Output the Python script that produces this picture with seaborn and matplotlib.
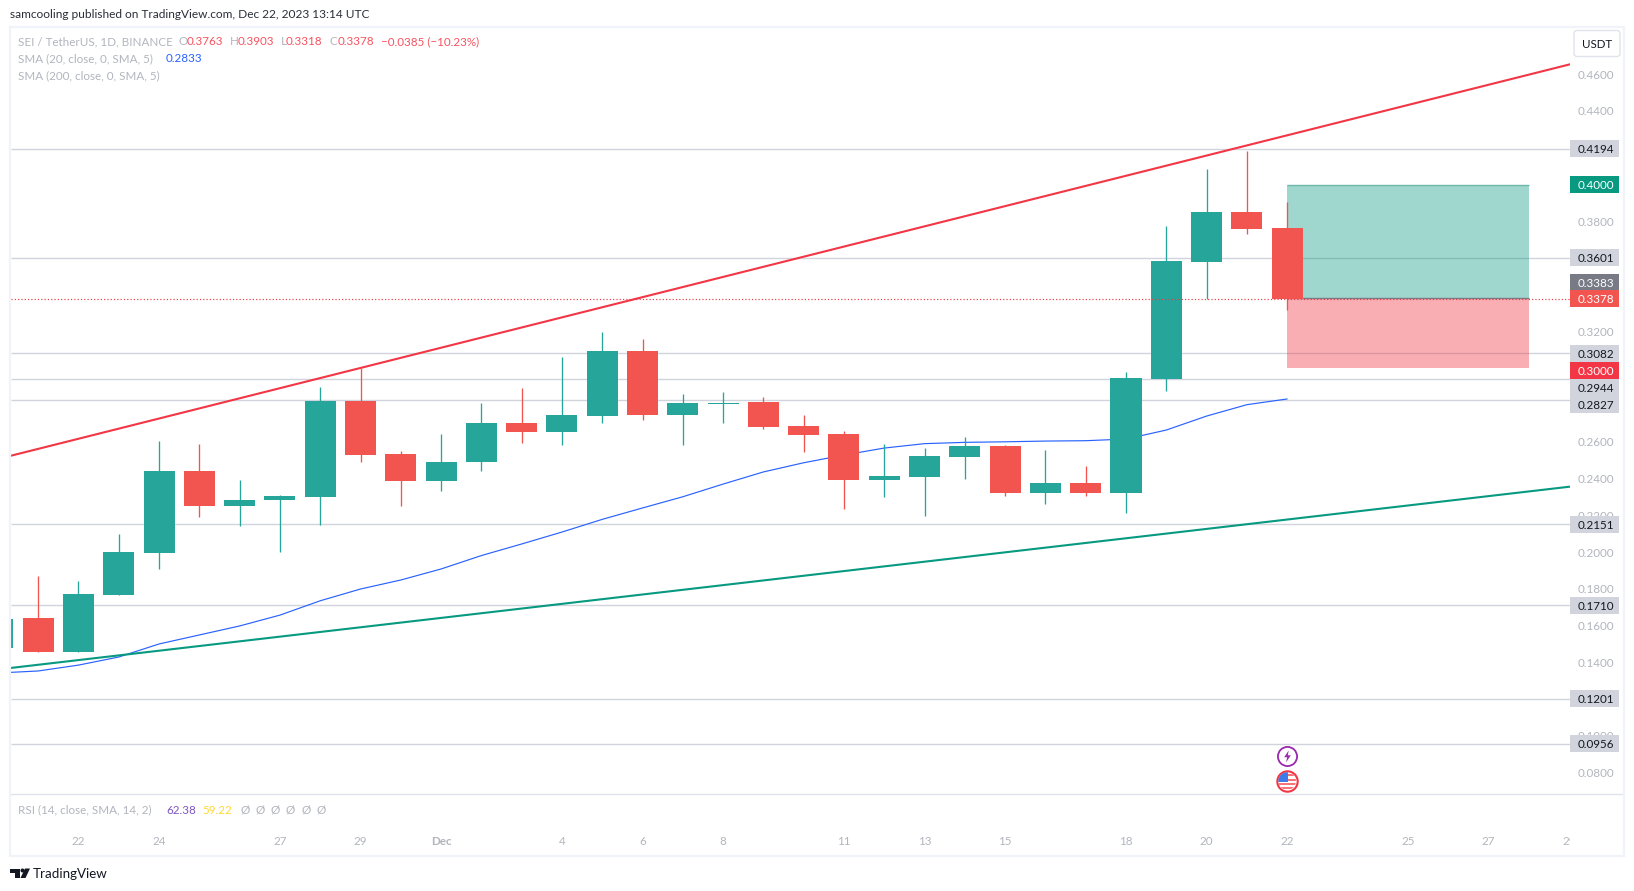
import matplotlib
matplotlib.use("Agg")
import matplotlib.pyplot as plt
from matplotlib.patches import Rectangle, FancyBboxPatch, Polygon, Circle
from matplotlib.path import Path
from matplotlib.transforms import Bbox
import numpy as np
import pandas as pd
import seaborn as sns

# Daily candles: day offset from 22 Nov 2023
days   = list(range(-2, 31))
opens  = [.1479, .1641, .1456, .1766, .1995, .2441, .2251, .2283, .2300, .2822, .2534,
          .2387, .2490, .2702, .2653, .2741, .3094, .2746, .2806, .2817, .2686, .2642,
          .2392, .2408, .2517, .2577, .2321, .2376, .2321, .2942, .3579, .3851, .3763]
highs  = [.1636, .1870, .1842, .2098, .2604, .2588, .2392, .2310, .2898, .3002, .2550,
          .2642, .2811, .2893, .3062, .3198, .3159, .2860, .2871, .2844, .2746, .2659,
          .2588, .2566, .2626, .2583, .2555, .2468, .2980, .3774, .4085, .4183, .3903]
lows   = [.1479, .1456, .1456, .1766, .1908, .2191, .2142, .2000, .2147, .2490, .2251,
          .2332, .2441, .2593, .2583, .2702, .2719, .2583, .2702, .2670, .2545, .2235,
          .2300, .2196, .2398, .2305, .2261, .2305, .2212, .2876, .3377, .3731, .3318]
closes = [.1636, .1456, .1772, .2000, .2441, .2251, .2283, .2305, .2822, .2528, .2387,
          .2490, .2702, .2653, .2746, .3094, .2746, .2811, .2810, .2681, .2637, .2392,
          .2414, .2523, .2577, .2321, .2376, .2321, .2947, .3584, .3851, .3758, .3378]

# 20-day simple moving average
sma20 = [.1342, .1353, .1385, .1429, .1500, .1549, .1598, .1657, .1735, .1799, .1848,
         .1908, .1981, .2044, .2109, .2178, .2240, .2301, .2370, .2436, .2486, .2528,
         .2566, .2590, .2597, .2600, .2604, .2606, .2615, .2664, .2740, .2802, .2833]

# Drawn trend lines
trend_days  = [-1.7, 37.02]
upper_trend = [.2523, .4654]
lower_trend = [.1369, .2356]

# Horizontal levels and the long-position tool
levels = [.4194, .3601, .3082, .2944, .2827, .2151, .1710, .1201, .0956]
level_nudge = [0, 0, 0, 9, 4, 0, 0, 0, 0]
target_price, entry_price, stop_price = .4000, .3383, .3000
last_price = .3378
tool_days = [30, 36]

# Scale labels that stay visible beside the level tags
price_ticks = [.08, .10, .14, .16, .18, .20, .22, .24, .26, .32, .38, .44, .46]
date_ticks  = [0, 2, 5, 7, 9, 12, 14, 16, 19, 21, 23, 26, 28, 30, 33, 35, 37]
date_labels = ["22", "24", "27", "29", "Dec", "4", "6", "8", "11", "13", "15",
               "18", "20", "22", "25", "27", "29"]

W, H = 1634, 891
GREEN, RED = "#26a69a", "#f25450"
TEAL, CRIMSON = "#089981", "#f23645"
MUTED, INK, RULE = "#b2b5be", "#131722", "#d1d4dc"

sns.set_theme(style="white")
FONT = "Lato"
plt.rcParams["font.family"] = [FONT, "DejaVu Sans"]
BASE = 8.35

fig = plt.figure(figsize=(W / 100, H / 100), dpi=100, facecolor="white")
top, bottom, left, right = 27, 794.3, 11, 1570
ax = fig.add_axes([left / W, 1 - bottom / H, (right - left) / W, (bottom - top) / H])
ax.set_xlim(-1.675, 37.02)
ax.set_ylim(.0682, .4857)
for s in ax.spines.values():
    s.set_visible(False)
ax.grid(False)

# Levels sit below everything else
ax.hlines(levels, -1.675, 37.02, color=RULE, lw=1.0, zorder=1)

# Long-position tool
ax.fill_between(tool_days, entry_price, target_price, color="#089981", alpha=.39, lw=0, zorder=2)
ax.fill_between(tool_days, stop_price, entry_price, color="#f23645", alpha=.40, lw=0, zorder=2)
ax.hlines(target_price, *tool_days, color="#6fb8ab", lw=1, zorder=2.1)
ax.hlines(entry_price, *tool_days, color="#787b86", lw=1, zorder=2.1)

# Moving average and trend lines
sma_df = pd.DataFrame({"day": days, "sma": sma20})
sns.lineplot(data=sma_df, x="day", y="sma", color="#2962ff", lw=.85, ax=ax, zorder=3, errorbar=None)
trend_df = pd.DataFrame({"day": trend_days, "upper": upper_trend, "lower": lower_trend})
sns.lineplot(data=trend_df, x="day", y="upper", color=CRIMSON, lw=1.5, ax=ax, zorder=3, errorbar=None)
sns.lineplot(data=trend_df, x="day", y="lower", color=TEAL, lw=1.5, ax=ax, zorder=3, errorbar=None)

# Candles
o, h, l, c, d = map(np.array, (opens, highs, lows, closes, days))
colours = np.where(c >= o, GREEN, RED)
ax.vlines(d, l, h, colors=colours, lw=.95, zorder=4)
ax.bar(d, np.abs(c - o), bottom=np.minimum(o, c), width=.77, color=colours, lw=0, zorder=4.5)

# Last-price line
ax.axhline(last_price, color="#ea3a45", lw=.85, ls=(0, (1, 1.8)), zorder=5)

# Event markers under the final candle
event_y, flag_y = .0890, .0754
ax.scatter([30], [event_y], s=190, facecolor="white", edgecolor="#9c27b0", lw=1.3, zorder=6)
bolt = Path([(.2, 1), (-.55, -.12), (-.05, -.12), (-.25, -1), (.55, .2), (.05, .2), (.2, 1)])
ax.scatter([30], [event_y], s=75, marker=bolt, color="#9c27b0", lw=0, zorder=7)
ax.scatter([30], [flag_y], s=215, facecolor="white", edgecolor=CRIMSON, lw=1.5, zorder=6)

# Axes labels
ax.yaxis.tick_right()
ax.set_yticks(price_ticks)
ax.set_yticklabels([f"{t:.4f}" for t in price_ticks])
ax.tick_params(axis="y", length=0, pad=5.5, labelsize=BASE, labelcolor=MUTED)
ax.set_xticks(date_ticks)
ax.set_xticklabels(date_labels)
ax.tick_params(axis="x", length=0, pad=30, labelsize=BASE, labelcolor=MUTED)
ax.set_xlabel("")
ax.set_ylabel("")
pane_clip = Bbox([[left, 0], [right, H]])
for tick, name in zip(ax.get_xticklabels(), date_labels):
    tick.set_clip_on(True)
    tick.set_clip_box(pane_clip)
    if name == "Dec":
        tick.set_fontweight("bold")

fig.canvas.draw()


def disp_y(value):
    return ax.transData.transform((0, value))[1]


def px(x, y, text, color, size=BASE, **kw):
    kw.setdefault("va", "center")
    kw.setdefault("ha", "left")
    return fig.text(x / W, 1 - y / H, text, color=color, fontsize=size, **kw)


def price_tag(value, face, color, nudge=0):
    y = disp_y(value) - nudge
    fig.add_artist(Rectangle((1570, y - 8.5), 49, 17, transform=None, fc=face, ec="none", zorder=1))
    fig.text(1595.5 / W, y / H, f"{value:.4f}", color=color, fontsize=BASE, ha="center", va="center_baseline", zorder=3)


for value, nudge in zip(levels, level_nudge):
    price_tag(value, RULE, INK, nudge)
price_tag(target_price, TEAL, "white")
price_tag(entry_price, "#787b86", "white", -15.2)
price_tag(last_price, RED, "white")
price_tag(stop_price, CRIMSON, "white", 2)

# Currency button
fig.add_artist(FancyBboxPatch((1574, H - 56.5), 46, 26, boxstyle="round,pad=0,rounding_size=3", transform=None,
                              fc="white", ec="#e0e3eb", lw=1, zorder=1))
px(1597, 44, "USDT", INK, size=8.3, ha="center")

# Pane separator and outer frame
fig.add_artist(plt.Line2D([11, 1623], [H - 794.3] * 2, transform=None, color="#e0e3eb", lw=1, zorder=1))
fig.add_artist(Rectangle((10, H - 855.5), 1613.5, 828.5, transform=None, fc="none", ec="#f0f3fa", lw=1.6, zorder=1))

# US flag badge
fx, fy = ax.transData.transform((30, flag_y))
flag = fig.add_axes([(fx - 9) / W, (fy - 9) / H, 18 / W, 18 / H], zorder=2)
flag.set_xlim(-1, 1); flag.set_ylim(-1, 1); flag.axis("off"); flag.patch.set_alpha(0)
disc = Circle((0, 0), .98, transform=flag.transData)
for yy in (.62, .12, -.38, -.8):
    r = flag.add_patch(Rectangle((-1, yy - .11), 2, .22, fc="#f7727b", ec="none"))
    r.set_clip_path(disc)
canton = flag.add_patch(Rectangle((-1, -.12), 1.05, 1.12, fc="#3d7be8", ec="none"))
canton.set_clip_path(disc)

# Header, legends and footer
px(10, 15, "samcooling published on TradingView.com, Dec 22, 2023 13:14 UTC", "#2a2e39", size=8.6)
px(18, 41.7, "SEI / TetherUS, 1D, BINANCE", MUTED)
for x, s in ((178.3, "O"), (230, "H"), (281, "L"), (330, "C")):
    px(x, 41.7, s, MUTED)
for x, s in ((186.7, "0.3763"), (237.7, "0.3903"), (286, "0.3318"), (337.7, "0.3378"), (381, "−0.0385 (−10.23%)")):
    px(x, 41.7, s, "#f7525f")
px(18, 58.7, "SMA (20, close, 0, SMA, 5)", MUTED)
px(165.3, 58.7, "0.2833", "#2962ff")
px(18, 76, "SMA (200, close, 0, SMA, 5)", MUTED)
px(18, 810, "RSI (14, close, SMA, 14, 2)", MUTED)
px(166, 810, "62.38", "#7e57c2")
px(202.7, 810, "59.22", "#fdd835")
for x in (240.7, 256, 270.7, 286, 301.7, 316.7):
    px(x, 810, "Ø", MUTED)

# TradingView wordmark
to_fig = lambda pts: [(a / W, 1 - b / H) for a, b in pts]
fig.add_artist(Polygon(to_fig([(10, 868.5), (20, 868.5), (20, 878), (15, 878), (15, 872.5), (10, 872.5)]),
                       transform=fig.transFigure, fc=INK, ec="none", zorder=1))
fig.add_artist(Polygon(to_fig([(25, 868.5), (30, 868.5), (25.5, 878), (20.5, 878)]),
                       transform=fig.transFigure, fc=INK, ec="none", zorder=1))
fig.add_artist(Circle((22.5, H - 870.5), 2, transform=None, fc=INK, ec="none", zorder=1))
px(33, 873.5, "TradingView", INK, size=9.6)

fig.savefig("out.png", dpi=100, facecolor="white")
